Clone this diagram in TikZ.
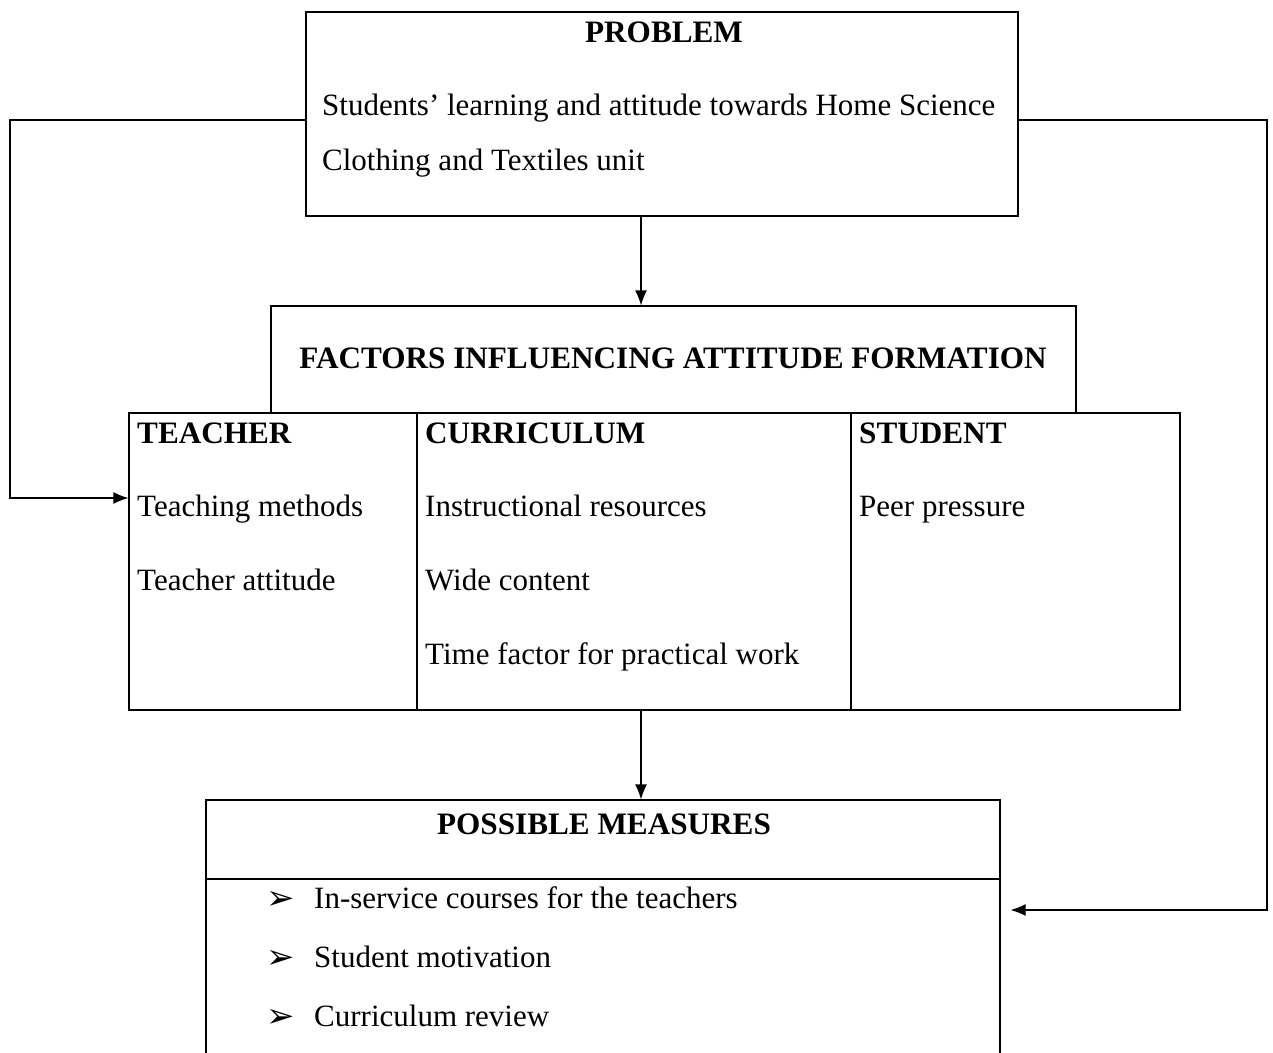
\documentclass[tikz,border=0pt]{standalone}
\usepackage{fontspec}
\setmainfont{Liberation Serif}
\newfontfamily\dejavu{DejaVu Sans}
\usetikzlibrary{arrows.meta}
\begin{document}
\begin{tikzpicture}[x=1pt,y=-1pt,
  box/.style={draw, line width=1.2pt, rectangle, inner sep=0pt},
  txt/.style={inner sep=0pt, anchor=base west, font=\fontsize{31}{36}\selectfont},
  ttl/.style={inner sep=0pt, font=\fontsize{31.2}{36}\selectfont\bfseries},
  bul/.style={inner sep=0pt, anchor=base west, font=\dejavu\fontsize{34}{36}\selectfont},
  conn/.style={line width=1.2pt, -{Latex[length=15pt,width=12pt]}}]
\useasboundingbox (0,0) rectangle (1273,1052);
% boxes
\node[box, minimum width=712pt, minimum height=204pt] (prob) at (662,114) {};
\node[box, minimum width=805pt, minimum height=107pt] (fact) at (673.5,359.5) {};
\node[box, minimum width=288pt, minimum height=297pt] (teach) at (273,561.5) {};
\node[box, minimum width=434pt, minimum height=297pt] (curr) at (634,561.5) {};
\node[box, minimum width=329pt, minimum height=297pt] (stud) at (1015.5,561.5) {};
\node[box, minimum width=794pt, minimum height=79pt] (meashead) at (603,839.5) {};
\node[box, minimum width=794pt, minimum height=200pt] (measbody) at (603,979) {};
% texts
\node[ttl, anchor=base] (tprob) at (664,42) {PROBLEM};
\node[txt] (p1) at (322,115) {Students’ learning and attitude towards Home Science};
\node[txt] (p2) at (322,170) {Clothing and Textiles unit};
\node[ttl, anchor=base] (tfact) at (673,368) {FACTORS INFLUENCING ATTITUDE FORMATION};
\node[ttl, anchor=base west] (tteach) at (137,443) {TEACHER};
\node[ttl, anchor=base west] (tcurr) at (425,443) {CURRICULUM};
\node[ttl, anchor=base west] (tstud) at (859,443) {STUDENT};
\node[txt] (t1) at (137,516) {Teaching methods};
\node[txt] (t2) at (137,590) {Teacher attitude};
\node[txt] (c1) at (425,516) {Instructional resources};
\node[txt] (c2) at (425,590) {Wide content};
\node[txt] (c3) at (425,664) {Time factor for practical work};
\node[txt] (s1) at (859,516) {Peer pressure};
\node[ttl, anchor=base] (tmeas) at (604,834) {POSSIBLE MEASURES};
\node[bul] (b1) at (266,909) {➢};
\node[bul] (b2) at (266,968) {➢};
\node[bul] (b3) at (266,1027) {➢};
\node[txt] (m1) at (314,908) {In-service courses for the teachers};
\node[txt] (m2) at (314,967) {Student motivation};
\node[txt] (m3) at (314,1026) {Curriculum review};
% connectors
\coordinate (mid) at (641,0);
\coordinate (lcorner) at (10,498);
\coordinate (rcorner) at (1267,910);
\draw[conn] (prob.south -| mid) -- (fact.north -| mid);
\draw[conn] (teach.south -| mid) -- (meashead.north -| mid);
\draw[conn] ([yshift=-6pt]prob.west) -| (lcorner) -- (teach.west |- lcorner);
\draw[conn] ([yshift=-6pt]prob.east) -| (rcorner) -- ([xshift=10pt]measbody.east |- rcorner);
\end{tikzpicture}
\end{document}
